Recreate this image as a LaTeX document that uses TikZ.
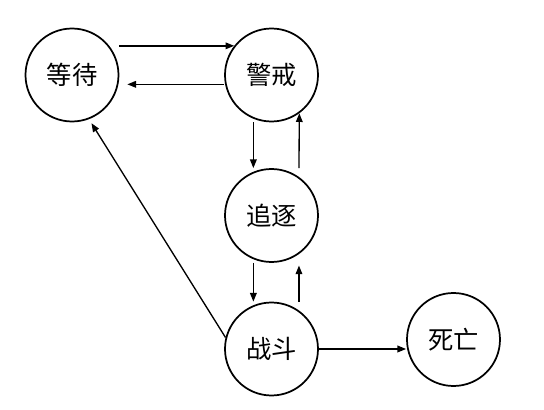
\documentclass[tikz,border=0pt]{standalone}
\usepackage{fontspec}
\newfontfamily\cjk{Noto Sans CJK SC}
\usetikzlibrary{arrows.meta}
\begin{document}
\begin{tikzpicture}[
      x=0.75pt,y=-0.75pt,
      state/.style={circle,draw,line width=1.3pt,minimum size=69.75pt,inner sep=0pt,
        font=\cjk\fontsize{19}{19}\selectfont},
      trans/.style={line width=1pt,-{Triangle[length=6.5pt,width=5pt]}}
      ]
      \useasboundingbox (0,0) rectangle (544,410);
      \def\Left{-13.6pt}
      \def\Right{20.6pt}

      \node[state] (wait) at (72,75) {等待};
      \node[state] (alert) at (271.5,75) {警戒};
      \node[state] (chase) at (271.5,215.5) {追逐};
      \node[state] (fight) at (271.5,349) {战斗};
      \node[state] (dead) at (453.5,339.5) {死亡};

      \draw[trans] (wait.east |- alert.142.5) -- (alert.142.5);
      \draw[trans] ([yshift=-7pt]alert.west) -- ([xshift=6pt,yshift=-7pt]wait.east);

      \draw[trans] ([xshift=\Left]alert.south) -- ([xshift=\Left]chase.north);
      \draw[trans] ([xshift=\Right]chase.north) -- (alert.-54);
      \draw[trans] ([xshift=\Left]chase.south) -- ([xshift=\Left]fight.north);
      \draw[trans] ([xshift=\Right]fight.north) -- ([xshift=\Right,yshift=-2pt]chase.south);

      \draw[trans] (fight.east) -- (fight.east -| dead.west);
      \draw[trans,shorten >=3.5pt] (fight.166) -- (wait.-69);
      \end{tikzpicture}
\end{document}
